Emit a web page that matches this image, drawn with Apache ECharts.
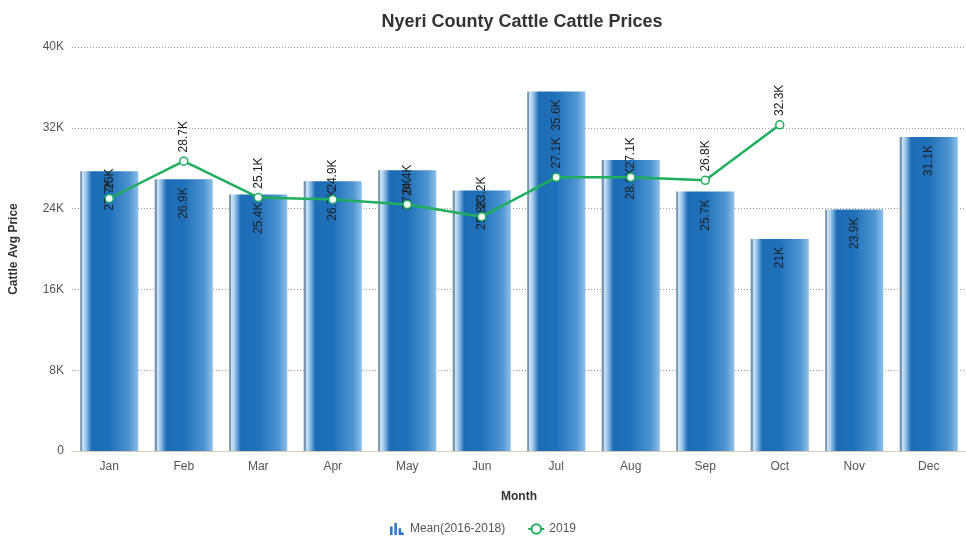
<!DOCTYPE html>
<html>
<head>
<meta charset="utf-8">
<script src="https://cdn.jsdelivr.net/npm/echarts@6/dist/echarts.min.js"></script>
<style>
  html, body { margin: 0; padding: 0; background: #ffffff; }
  #chart { width: 966px; height: 538px; }
</style>
</head>
<body>
<div id="chart"></div>
<script>
// Monthly cattle prices, Nyeri County (KES)
var months = ['Jan', 'Feb', 'Mar', 'Apr', 'May', 'Jun', 'Jul', 'Aug', 'Sep', 'Oct', 'Nov', 'Dec'];
var meanPrices = [27700, 26900, 25400, 26700, 27800, 25800, 35600, 28800, 25700, 21000, 23900, 31100];
var prices2019 = [25000, 28700, 25100, 24900, 24400, 23200, 27100, 27100, 26800, 32300, null, null];
var yTicks = [0, 8000, 16000, 24000, 32000, 40000];

function fmtK(v) {
  if (v === 0) return '0';
  return +(v / 1000).toFixed(1) + 'K';
}

// cylinder-like shading across each column
var barFill = new echarts.graphic.LinearGradient(0, 0, 1, 0, [
  { offset: 0.00, color: '#7593ad' },
  { offset: 0.03, color: '#7593ad' },
  { offset: 0.04, color: '#cfe5f6' },
  { offset: 0.09, color: '#a7cdee' },
  { offset: 0.20, color: '#1d6cb6' },
  { offset: 0.50, color: '#1f70ba' },
  { offset: 0.85, color: '#4f95d1' },
  { offset: 1.00, color: '#8fc0e8' }
]);

var chart = echarts.init(document.getElementById('chart'), null, { renderer: 'canvas' });

chart.setOption({
  backgroundColor: '#ffffff',
  animation: false,
  title: {
    text: 'Nyeri County Cattle Cattle Prices',
    left: 517,
    textAlign: 'center',
    top: 8,
    textStyle: { fontFamily: 'Liberation Sans, Arial, sans-serif', fontSize: 18, fontWeight: 'bold', color: '#333333' }
  },
  legend: {
    top: 518,
    left: 'center',
    itemGap: 22,
    itemWidth: 16,
    itemHeight: 12,
    textStyle: { fontFamily: 'Liberation Sans, Arial, sans-serif', fontSize: 12, color: '#555555' },
    data: [
      {
        name: 'Mean(2016-2018)',
        icon: 'path://M0,6 h3 v10 h-3 z M5,2 h3 v14 h-3 z M10,8 h3 v8 h-3 z M13,13 h3 v3 h-3 z',
        itemStyle: { color: '#2a78c0' }
      },
      { name: '2019' }
    ]
  },
  grid: { left: 71, right: -10, top: 47, bottom: 87, containLabel: false },
  xAxis: {
    type: 'category',
    data: months,
    name: 'Month',
    nameLocation: 'middle',
    nameGap: 40,
    nameTextStyle: { fontFamily: 'Liberation Sans, Arial, sans-serif', fontSize: 12, fontWeight: 'bold', color: '#333333' },
    axisLine: { lineStyle: { color: '#d9c9b8' } },
    axisTick: { show: false },
    axisLabel: { fontFamily: 'Liberation Sans, Arial, sans-serif', fontSize: 12, color: '#555555', margin: 10 }
  },
  yAxis: {
    type: 'value',
    min: yTicks[0],
    max: yTicks[yTicks.length - 1],
    interval: 8000,
    name: 'Cattle Avg Price',
    nameLocation: 'middle',
    nameGap: 52,
    nameTextStyle: { fontFamily: 'Liberation Sans, Arial, sans-serif', fontSize: 12, fontWeight: 'bold', color: '#333333' },
    axisLine: { show: false },
    axisTick: { show: false },
    axisLabel: { fontFamily: 'Liberation Sans, Arial, sans-serif', fontSize: 12, color: '#555555', margin: 8, formatter: fmtK },
    splitLine: { lineStyle: { color: '#999999', type: [1, 2], width: 1 } }
  },
  series: [
    {
      name: 'Mean(2016-2018)',
      type: 'bar',
      data: meanPrices,
      barWidth: '78%',
      itemStyle: { color: barFill },
      label: {
        show: true,
        position: 'insideTop',
        rotate: 90,
        align: 'right',
        verticalAlign: 'middle',
        distance: 8,
        fontFamily: 'Liberation Sans, Arial, sans-serif',
        fontSize: 12,
        color: '#222222',
        formatter: function (p) { return fmtK(p.value); }
      },
      z: 2
    },
    {
      name: '2019',
      type: 'line',
      data: prices2019,
      symbol: 'circle',
      symbolSize: 8,
      lineStyle: { color: '#1fae5b', width: 2.5 },
      itemStyle: { color: '#ffffff', borderColor: '#1fae5b', borderWidth: 1.5 },
      label: {
        show: true,
        position: 'top',
        rotate: 90,
        align: 'left',
        verticalAlign: 'middle',
        distance: 4,
        fontFamily: 'Liberation Sans, Arial, sans-serif',
        fontSize: 12,
        color: '#222222',
        formatter: function (p) { return fmtK(p.value); }
      },
      z: 3
    }
  ]
});
</script>
</body>
</html>
